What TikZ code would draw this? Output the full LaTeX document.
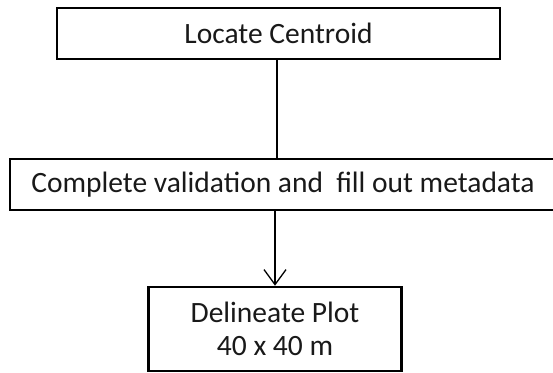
\documentclass[tikz,border=0pt]{standalone}
\usepackage{fontspec}
\setmainfont{Carlito}
\usetikzlibrary{arrows.meta}
\begin{document}
\begin{tikzpicture}[x=1pt,y=-1pt,
  box/.style={draw=black, line width=2.6pt, inner sep=0pt, align=center,
    font=\fontsize{29.5}{33}\selectfont, text=black!90},
  link/.style={draw=black, line width=1.3pt}]
\useasboundingbox (0,0) rectangle (553,372);
\node[box, minimum width=443pt, minimum height=51pt] (top) at (278.5,33.5) {Locate Centroid};
\node[box, minimum width=553pt, minimum height=51pt] (mid) at (286.5,184.5) {\hspace*{-7pt}Complete validation and\ \ fill out metadata};
\node[box, minimum width=253pt, minimum height=84pt] (bot) at (275,329) {Delineate Plot\\40 x 40 m};
\draw[link] (top.south -| 277,0) -- (mid.north -| 277,0);
\draw[link, -{Straight Barb[length=15pt, width=22pt, line width=1.3pt]}] (mid.south -| bot.north) -- (bot.north);
\end{tikzpicture}
\end{document}
